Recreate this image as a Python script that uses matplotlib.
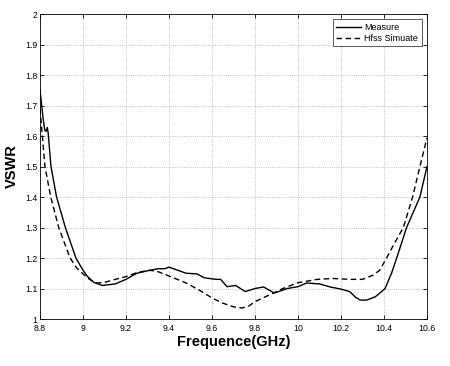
import numpy as np
import matplotlib
matplotlib.use('Agg')
import matplotlib.pyplot as plt

plt.rcParams['font.family'] = ['Liberation Sans', 'DejaVu Sans']

f_meas = [8.80, 8.815, 8.822, 8.828, 8.834, 8.838, 8.851, 8.877, 8.918, 8.967,
          9.00, 9.02, 9.05, 9.09, 9.15, 9.20, 9.25, 9.30, 9.35, 9.38,
          9.40, 9.44, 9.48, 9.53, 9.565, 9.62, 9.64, 9.67, 9.71, 9.755,
          9.80, 9.84, 9.89, 9.95, 10.00, 10.04, 10.10, 10.15, 10.20, 10.24,
          10.27, 10.29, 10.32, 10.36, 10.405, 10.435, 10.459, 10.505, 10.567, 10.60]
v_meas = [1.75, 1.655, 1.62, 1.615, 1.628, 1.61, 1.50, 1.40, 1.30, 1.20,
          1.16, 1.14, 1.12, 1.11, 1.115, 1.13, 1.15, 1.158, 1.165, 1.165,
          1.17, 1.16, 1.15, 1.148, 1.135, 1.13, 1.13, 1.106, 1.11, 1.09,
          1.10, 1.105, 1.085, 1.10, 1.106, 1.118, 1.115, 1.105, 1.098, 1.09,
          1.07, 1.062, 1.062, 1.073, 1.10, 1.15, 1.20, 1.30, 1.40, 1.50]

# HFSS simulation
f_sim = [8.80, 8.823, 8.85, 8.887, 8.94, 8.97, 9.00, 9.03, 9.065, 9.10,
         9.15, 9.20, 9.25, 9.31, 9.35, 9.40, 9.48, 9.54, 9.60, 9.65,
         9.70, 9.74, 9.77, 9.80, 9.87, 9.93, 10.00, 10.09, 10.16, 10.24,
         10.30, 10.35, 10.38, 10.412, 10.45, 10.49, 10.533, 10.567, 10.60]
v_sim = [1.69, 1.50, 1.40, 1.30, 1.20, 1.168, 1.148, 1.13, 1.118, 1.12,
         1.13, 1.139, 1.152, 1.16, 1.155, 1.141, 1.118, 1.095, 1.069, 1.052,
         1.04, 1.036, 1.042, 1.057, 1.08, 1.10, 1.119, 1.13, 1.133, 1.13,
         1.13, 1.144, 1.16, 1.20, 1.25, 1.30, 1.40, 1.50, 1.594]

xticks = [8.8, 9, 9.2, 9.4, 9.6, 9.8, 10, 10.2, 10.4, 10.6]
xtick_labels = ['8.8', '9', '9.2', '9.4', '9.6', '9.8', '10', '10.2', '10.4', '10.6']
yticks = [1, 1.1, 1.2, 1.3, 1.4, 1.5, 1.6, 1.7, 1.8, 1.9, 2]
ytick_labels = ['1', '1.1', '1.2', '1.3', '1.4', '1.5', '1.6', '1.7', '1.8', '1.9', '2']

fig = plt.figure(figsize=(4.5, 3.66), dpi=100)
ax = fig.add_axes([0.0889, 0.1284, 0.86, 0.8333])

ax.plot(f_meas, v_meas, color='black', lw=1.0, label='Measure')
ax.plot(f_sim, v_sim, color='black', lw=1.0, ls=(0, (4, 2.5)), label='Hfss Simuate')

ax.set_xlim(8.8, 10.6)
ax.set_ylim(1, 2)
ax.set_xticks(xticks)
ax.set_xticklabels(xtick_labels)
ax.set_yticks(yticks)
ax.set_yticklabels(ytick_labels)
ax.tick_params(direction='in', length=3, width=0.6, labelsize=6.3,
               top=True, right=True, pad=2)
ax.tick_params(axis='x', pad=3.5)
ax.grid(True, ls=':', color='#b0b0b0', lw=0.6)
for s in ax.spines.values():
    s.set_linewidth(0.6)

ax.set_xlabel('Frequence(GHz)', fontsize=10.5, fontweight='bold', labelpad=1.5)
ax.set_ylabel('VSWR', fontsize=10.5, fontweight='bold', labelpad=4)

leg = ax.legend(loc='upper right', fontsize=6.5, fancybox=False, framealpha=1,
                edgecolor='#404040', handlelength=2.7, borderpad=0.4,
                labelspacing=0.2, handletextpad=0.4, borderaxespad=0.6)
leg.get_frame().set_linewidth(0.6)

fig.savefig('out.png', dpi=100)
